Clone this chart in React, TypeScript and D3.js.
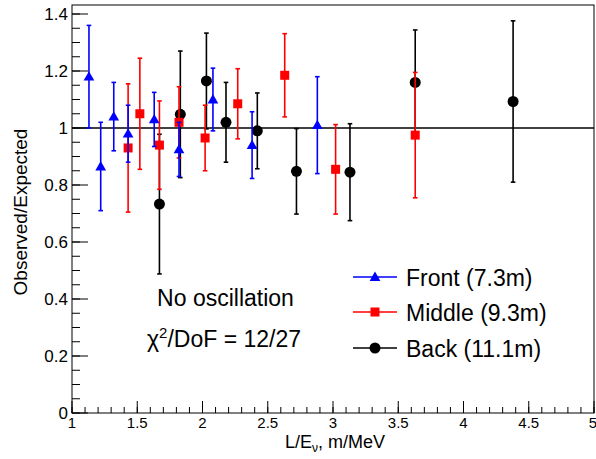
import React from "react";
import * as d3 from "d3";

// ---- data ----
const frontX = [1.13, 1.22, 1.32, 1.43, 1.63, 1.82, 2.08, 2.38, 2.88];
const frontY = [1.18, 0.865, 1.04, 0.98, 1.03, 0.925, 1.10, 0.94, 1.01];
const frontErr = [0.18, 0.155, 0.12, 0.10, 0.095, 0.095, 0.11, 0.117, 0.17];

const middleX = [1.43, 1.52, 1.67, 1.82, 2.02, 2.27, 2.63, 3.02, 3.63];
const middleY = [0.93, 1.05, 0.94, 1.02, 0.965, 1.085, 1.185, 0.855, 0.975];
const middleErr = [0.225, 0.195, 0.155, 0.125, 0.115, 0.123, 0.146, 0.157, 0.22];

const backX = [1.67, 1.83, 2.03, 2.18, 2.42, 2.72, 3.13, 3.63, 4.38];
const backY = [0.733, 1.048, 1.165, 1.02, 0.99, 0.848, 0.845, 1.16, 1.093];
const backErr = [0.245, 0.222, 0.168, 0.14, 0.133, 0.15, 0.17, 0.184, 0.283];

const xTickLabels = ["1", "1.5", "2", "2.5", "3", "3.5", "4", "4.5", "5"];
const yTickLabels = ["0", "0.2", "0.4", "0.6", "0.8", "1", "1.2", "1.4"];

const seriesNames = ["Front (7.3m)", "Middle (9.3m)", "Back (11.1m)"];

const W = 596;
const H = 459;
const L = 72, R = 594, T = 5, B = 413;
const FONT = "'Liberation Sans', Arial, Helvetica, sans-serif";

const x = d3.scaleLinear().domain([1, 5]).range([L, R]);
const y = d3.scaleLinear().domain([0, 1.4316]).range([B, T]);

type Shape = "tri" | "sq" | "circ";

function Marker({ cx, cy, shape, color }: { cx: number; cy: number; shape: Shape; color: string }) {
  if (shape === "circ") return <circle cx={cx} cy={cy} r={5.5} fill={color} />;
  if (shape === "sq") return <rect x={cx - 4.5} y={cy - 4.5} width={9} height={9} fill={color} />;
  const s = d3.symbol().type(d3.symbolTriangle).size(50)();
  return <path d={s || ""} transform={`translate(${cx},${cy + 0.8})`} fill={color} />;
}

function Series({ xs, ys, es, color, shape }: { xs: number[]; ys: number[]; es: number[]; color: string; shape: Shape }) {
  return (
    <g>
      {xs.map((xv, i) => {
        const px = x(xv);
        const top = y(ys[i] + es[i]);
        const bot = y(ys[i] - es[i]);
        return (
          <g key={i}>
            <line x1={px} x2={px} y1={top} y2={bot} stroke={color} strokeWidth={1.6} />
            <line x1={px - 2.3} x2={px + 2.3} y1={top} y2={top} stroke={color} strokeWidth={1.6} />
            <line x1={px - 2.3} x2={px + 2.3} y1={bot} y2={bot} stroke={color} strokeWidth={1.6} />
            <Marker cx={px} cy={y(ys[i])} shape={shape} color={color} />
          </g>
        );
      })}
    </g>
  );
}

export default function App() {
  const xMajor = d3.range(0, 9).map((i) => 1 + i * 0.5);
  const xMinor = d3.range(0, 41).map((i) => 1 + i * 0.1);
  const yMajor = d3.range(0, 8).map((i) => i * 0.2);
  const yMinor = d3.range(0, 29).map((i) => i * 0.05);

  const legendRows = [
    { name: seriesNames[0], color: "#0000ff", shape: "tri" as Shape, base: 286 },
    { name: seriesNames[1], color: "#ff0000", shape: "sq" as Shape, base: 321 },
    { name: seriesNames[2], color: "#000000", shape: "circ" as Shape, base: 357 },
  ];

  return (
    <svg width={W} height={H} style={{ position: "absolute", left: 0, top: 0, background: "#fff" }} fontFamily={FONT}>
      <rect x={0} y={0} width={W} height={H} fill="#fff" />
      {/* frame */}
      <rect x={L} y={T} width={R - L} height={B - T} fill="none" stroke="#000" strokeWidth={1} />

      {/* y ticks */}
      {yMinor.map((v, i) => (
        <line key={"ym" + i} x1={L} x2={L + 8} y1={y(v)} y2={y(v)} stroke="#000" strokeWidth={1} />
      ))}
      {yMajor.map((v, i) => (
        <line key={"yM" + i} x1={L} x2={L + 16} y1={y(v)} y2={y(v)} stroke="#000" strokeWidth={1} />
      ))}
      {yMajor.map((v, i) => (
        <text key={"yl" + i} x={L - 4} y={y(v)} dy="0.36em" textAnchor="end" fontSize={17}>
          {yTickLabels[i]}
        </text>
      ))}

      {/* x ticks */}
      {xMinor.map((v, i) => (
        <line key={"xm" + i} x1={x(v)} x2={x(v)} y1={B} y2={B - 6} stroke="#000" strokeWidth={1} />
      ))}
      {xMajor.map((v, i) => (
        <line key={"xM" + i} x1={x(v)} x2={x(v)} y1={B} y2={B - 12} stroke="#000" strokeWidth={1} />
      ))}
      {xMajor.map((v, i) => (
        <text key={"xl" + i} x={i === xMajor.length - 1 ? x(v) - 1 : x(v)} y={428} textAnchor="middle" fontSize={15}>
          {xTickLabels[i]}
        </text>
      ))}

      {/* reference line at 1 */}
      <line x1={L} x2={R} y1={y(1)} y2={y(1)} stroke="#000" strokeWidth={1.6} />

      {/* data */}
      <Series xs={backX} ys={backY} es={backErr} color="#000000" shape="circ" />
      <Series xs={middleX} ys={middleY} es={middleErr} color="#ff0000" shape="sq" />
      <Series xs={frontX} ys={frontY} es={frontErr} color="#0000ff" shape="tri" />

      {/* axis titles */}
      <text transform="translate(27,212) rotate(-90)" textAnchor="middle" fontSize={19}>
        Observed/Expected
      </text>
      <text x={335} y={448} textAnchor="middle" fontSize={18}>
        L/E<tspan fontSize={12} dy={4}>ν</tspan>
        <tspan dy={-4}>, m/MeV</tspan>
      </text>

      {/* annotations */}
      <text x={225.5} y={306} textAnchor="middle" fontSize={23}>No oscillation</text>
      <text x={224} y={347} textAnchor="middle" fontSize={23}>
        χ<tspan fontSize={15} dy={-9}>2</tspan>
        <tspan dy={9}>/DoF = 12/27</tspan>
      </text>

      {/* legend */}
      {legendRows.map((r, i) => (
        <g key={"lg" + i}>
          <line x1={353} x2={397} y1={r.base - 9} y2={r.base - 9} stroke={r.color} strokeWidth={1.6} />
          <Marker cx={375} cy={r.base - 9} shape={r.shape} color={r.color} />
          <text x={406} y={r.base} fontSize={23}>{r.name}</text>
        </g>
      ))}
    </svg>
  );
}
